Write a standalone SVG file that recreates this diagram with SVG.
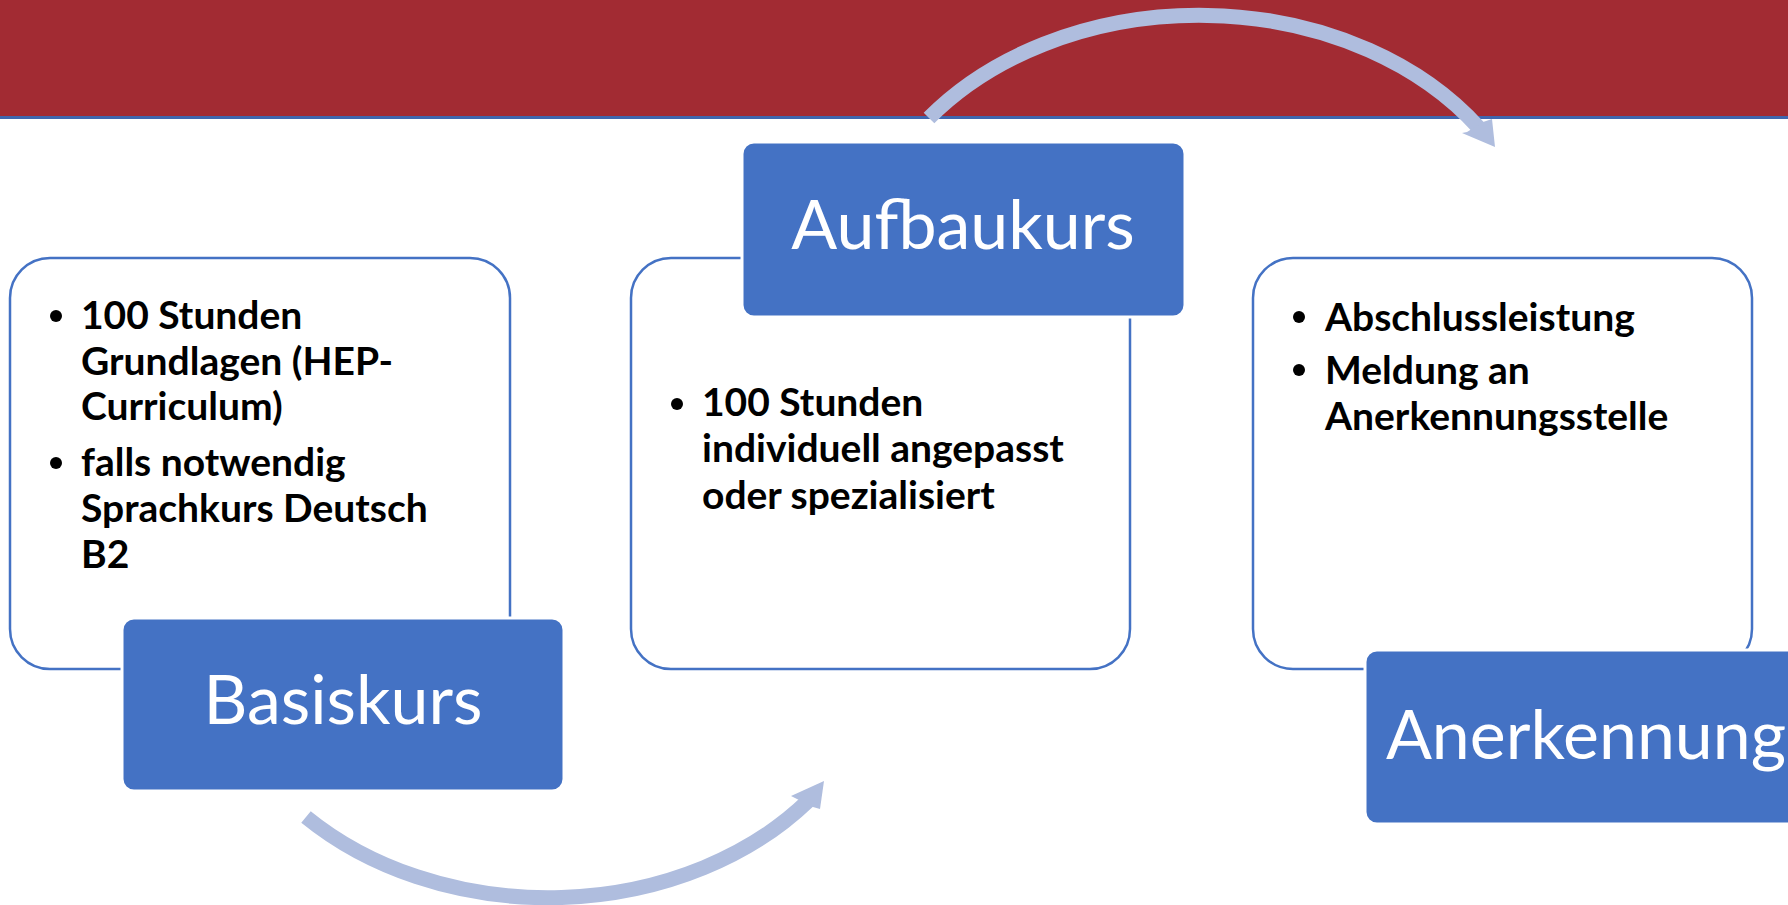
<svg xmlns="http://www.w3.org/2000/svg" width="1788" height="905" viewBox="0 0 1788 905">
  <style>
    .card { fill: #FFFFFF; stroke: #4472C4; stroke-width: 2.5; }
    .label { fill: #4472C4; stroke: #FFFFFF; stroke-width: 3; }
    .title { font-family: Lato, "Open Sans", "Liberation Sans", sans-serif; font-size: 68px; fill: #FFFFFF; text-anchor: middle; }
    .item { font-family: Lato, "Open Sans", "Liberation Sans", sans-serif; font-weight: bold; font-size: 39px; fill: #000000; }
    .bullet { fill: #000000; }
    .arc { fill: none; stroke: #AFBDDE; stroke-width: 15; stroke-linecap: butt; }
    .head { fill: #AFBDDE; }
  </style>
  <rect x="0" y="0" width="1788" height="905" fill="#FFFFFF"/>
  <g id="banner">
    <rect x="0" y="0" width="1788" height="117" fill="#A22B33"/>
    <rect x="0" y="116" width="1788" height="3" fill="#3F66AE"/>
  </g>

  <g id="node-basiskurs">
    <rect class="card" x="10" y="258" width="500" height="411" rx="40" ry="40"/>
    <circle class="bullet" cx="56" cy="316" r="6"/>
    <text class="item" x="81" y="329">100 Stunden</text>
    <text class="item" x="81" y="375">Grundlagen (HEP-</text>
    <text class="item" x="81" y="420">Curriculum)</text>
    <circle class="bullet" cx="56" cy="463" r="6"/>
    <text class="item" x="81" y="476">falls notwendig</text>
    <text class="item" x="81" y="522">Sprachkurs Deutsch</text>
    <text class="item" x="81" y="568">B2</text>
    <rect class="label" x="122" y="618" width="442" height="173" rx="12" ry="12"/>
    <text class="title" x="343" y="724">Basiskurs</text>
  </g>

  <g id="node-aufbaukurs">
    <rect class="card" x="631" y="258" width="499" height="411" rx="40" ry="40"/>
    <rect class="label" x="742" y="142" width="443" height="175" rx="12" ry="12"/>
    <text class="title" x="963" y="249">Aufbaukurs</text>
    <circle class="bullet" cx="677" cy="404" r="6"/>
    <text class="item" x="702" y="416">100 Stunden</text>
    <text class="item" x="702" y="462">individuell angepasst</text>
    <text class="item" x="702" y="509">oder spezialisiert</text>
  </g>

  <g id="node-anerkennung">
    <rect class="card" x="1253" y="258" width="499" height="411" rx="40" ry="40"/>
    <circle class="bullet" cx="1299" cy="317" r="6"/>
    <text class="item" x="1325" y="331">Abschlussleistung</text>
    <circle class="bullet" cx="1299" cy="370" r="6"/>
    <text class="item" x="1325" y="384">Meldung an</text>
    <text class="item" x="1325" y="430">Anerkennungsstelle</text>
    <rect class="label" x="1365" y="650" width="443" height="174" rx="12" ry="12"/>
    <text class="title" x="1586" y="759">Anerkennung</text>
  </g>

  <g id="connectors">
    <path class="arc" d="M306,817 A335.5,262.6 0 0 0 808,801"/>
    <polygon class="head" points="824,781 791,796 797,799 813,807 820,809"/>
    <path class="arc" d="M929,118 A339.7,260.5 0 0 1 1479,128"/>
    <polygon class="head" points="1495,147 1462,133 1467,132 1483,122 1492,119"/>
  </g>
</svg>
